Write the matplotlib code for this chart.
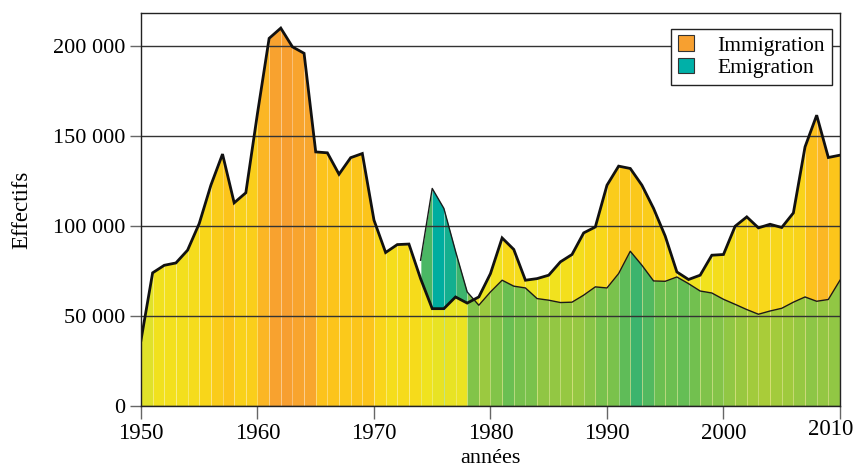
import matplotlib
matplotlib.use("Agg")
import matplotlib.pyplot as plt
from matplotlib.colors import LinearSegmentedColormap, Normalize
from matplotlib.patches import Patch
from matplotlib.ticker import FuncFormatter, MultipleLocator

plt.rcParams["font.family"] = ["Liberation Serif", "DejaVu Serif"]

years = list(range(1950, 2011))

immigration = [
    36500, 74000, 78200, 79500, 86600, 101400, 122700, 140000, 112900, 118500,
    162600, 204300, 210000, 199600, 196000, 141200, 140700, 128800, 138000, 140300,
    103300, 85300, 89700, 90000, 70800, 54100, 54100, 60600, 57200, 60600,
    73600, 93400, 87000, 69900, 70800, 72700, 80100, 84200, 96200, 99500,
    122700, 133300, 132000, 122700, 109800, 94400, 74500, 70300, 72700, 83800,
    84200, 99900, 105100, 99000, 101000, 99200, 107300, 144000, 161600, 138100,
    139400,
]

emigration_years = list(range(1974, 2011))
emigration = [
    81000, 120900, 109800, 86000, 63400, 56000,
    63400, 69900, 66600, 65600, 59700, 58800, 57500, 57700, 61600, 66200,
    65600, 73600, 86000, 78200, 69500, 69300, 71700, 68000, 63900, 62800,
    59300, 56500, 53600, 51000, 52800, 54300, 57700, 60600, 58200, 59200,
    69900,
]

imm_cmap = LinearSegmentedColormap.from_list(
    "imm",
    [(0.0, "#dfe22a"), (0.2, "#f0e31f"), (0.35, "#f8d81a"), (0.6, "#fcc41b"),
     (0.75, "#fbb426"), (1.0, "#f79f30")],
)
emi_cmap = LinearSegmentedColormap.from_list(
    "emi",
    [(0.0, "#abcd38"), (0.14, "#8fc645"), (0.28, "#6abf52"), (0.5, "#3db46c"),
     (1.0, "#00ad9f")],
)
imm_norm = Normalize(35000, 210000)
emi_norm = Normalize(50000, 121000)

imm = dict(zip(years, immigration))
emi = dict(zip(emigration_years, emigration))

fig = plt.figure(figsize=(8.58, 4.69), dpi=100)
ax = fig.add_axes([0.1643, 0.1343, 0.8147, 0.838])

# one coloured strip per year; the smaller series is painted on top
for y0 in years[:-1]:
    y1 = y0 + 1
    xs = [y0, y1]
    a = [imm[y0], imm[y1]]
    ca = imm_cmap(imm_norm(imm[y0]))
    if y0 in emi:
        e = [emi[y0], emi[y1]]
        ce = emi_cmap(emi_norm(emi[y0]))
        if e[1] < a[1]:
            layers = [(a, ca), (e, ce)]
        else:
            layers = [(e, ce), (a, ca)]
    else:
        layers = [(a, ca)]
    for vals, col in layers:
        ax.fill_between(xs, 0, vals, color=col, linewidth=0, zorder=1)

# thin light separators between yearly strips
sep_x = years[1:-1]
sep_top = [max(imm[y], emi.get(y, 0)) for y in sep_x]
ax.vlines(sep_x, 0, sep_top, colors="white", alpha=0.3, linewidth=0.7, zorder=2)

ax.yaxis.set_major_locator(MultipleLocator(50000))
ax.grid(axis="y", color="#333333", linewidth=1.0, zorder=3)
ax.set_axisbelow(False)
for line in ax.get_ygridlines():
    line.set_zorder(3)

ax.plot(emigration_years, emigration, color="#1a1a1a", linewidth=1.0, zorder=4)
ax.plot(years, immigration, color="#111111", linewidth=2.0, zorder=5,
        solid_joinstyle="miter")

ax.set_xlim(1950, 2010)
ax.set_ylim(0, 218400)
ax.xaxis.set_major_locator(MultipleLocator(10))
# the 2010 label is drawn separately, nudged left to stay inside the figure
ax.xaxis.set_major_formatter(FuncFormatter(lambda v, p: "" if v >= 2010 else f"{int(v)}"))
ax.yaxis.set_major_formatter(FuncFormatter(lambda v, p: f"{int(v):,}".replace(",", " ")))

ax.tick_params(axis="x", direction="out", length=9, width=1, color="#666666",
               labelsize=16.5, pad=3)
ax.tick_params(axis="y", direction="out", length=8, width=1, color="#666666",
               labelsize=16, pad=3)
ax.annotate("2010", xy=(years[-1], 0), xycoords=("data", "axes fraction"),
            xytext=(-6.5, -9.5), textcoords="offset points",
            ha="center", va="top", fontsize=16.5)

for side in ["left", "bottom", "top", "right"]:
    ax.spines[side].set_color("#222222")
    ax.spines[side].set_linewidth(1.0)
    ax.spines[side].set_zorder(6)

ax.set_xlabel("années", fontsize=16, labelpad=4)
ax.set_ylabel("Effectifs", fontsize=16.5, labelpad=15)

handles = [
    Patch(facecolor="#f7a030", edgecolor="#333333", linewidth=0.8, label="Immigration"),
    Patch(facecolor="#00b0a8", edgecolor="#333333", linewidth=0.8, label="Emigration"),
]
leg = ax.legend(handles=handles, loc="upper right", bbox_to_anchor=(0.988, 0.96),
                fontsize=15.5, frameon=True, fancybox=False, edgecolor="#222222",
                framealpha=1, handlelength=0.75, handleheight=0.75, handletextpad=1.1,
                borderpad=0.3, labelspacing=0.1, borderaxespad=0)
leg.get_frame().set_linewidth(1.0)
leg.set_zorder(10)

fig.savefig("out.png", dpi=100)
